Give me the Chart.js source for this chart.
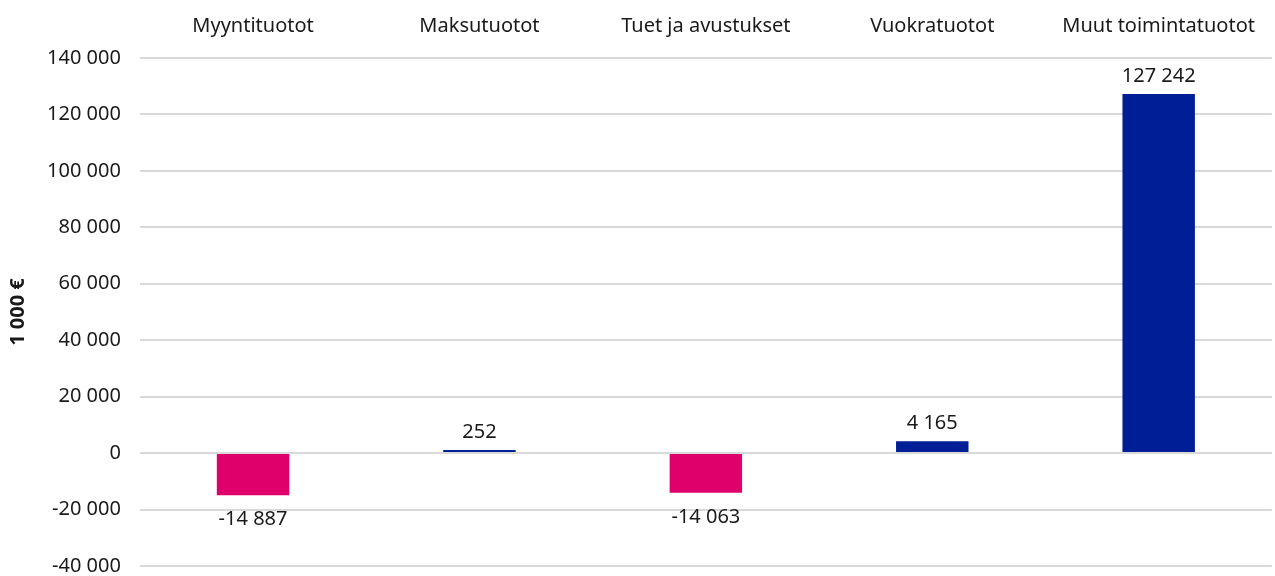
<!DOCTYPE html>
<html>
<head>
<meta charset="utf-8">
<script src="https://cdn.jsdelivr.net/npm/chart.js@4/dist/chart.umd.min.js"></script>
<style>
  html, body { margin: 0; padding: 0; background: #fff; }
  #wrap { width: 1275px; height: 576px; position: relative; }
</style>
</head>
<body>
<div id="wrap"><canvas id="chart"></canvas></div>
<script>
// Data
const categories = ['Myyntituotot', 'Maksutuotot', 'Tuet ja avustukset', 'Vuokratuotot', 'Muut toimintatuotot'];
const values = [-14887, 252, -14063, 4165, 127242];
const yTicks = [-40000, -20000, 0, 20000, 40000, 60000, 80000, 100000, 120000, 140000];

const POS_COLOR = '#001e96';
const NEG_COLOR = '#e0006b';
const FONT = "'Noto Sans', 'Open Sans', sans-serif";

function fmt(n) {
  const s = Math.abs(n).toString().replace(/\B(?=(\d{3})+(?!\d))/g, ' ');
  return (n < 0 ? '-' : '') + s;
}

// value labels above/below the bars
const valueLabels = {
  id: 'valueLabels',
  afterDatasetsDraw(chart) {
    const ctx = chart.ctx;
    const meta = chart.getDatasetMeta(0);
    ctx.save();
    ctx.font = '20px ' + FONT;
    ctx.fillStyle = '#1a1a1a';
    ctx.textAlign = 'center';
    meta.data.forEach((bar, i) => {
      const v = values[i];
      if (v >= 0) {
        ctx.textBaseline = 'bottom';
        ctx.fillText(fmt(v), bar.x, bar.y - 8);
      } else {
        ctx.textBaseline = 'top';
        ctx.fillText(fmt(v), bar.x, bar.y + 14);
      }
    });
    ctx.restore();
  }
};

new Chart(document.getElementById('chart'), {
  type: 'bar',
  data: {
    labels: categories,
    datasets: [{
      data: values,
      backgroundColor: values.map(v => v < 0 ? NEG_COLOR : POS_COLOR),
      borderWidth: 0,
      barPercentage: 0.32,
      categoryPercentage: 1.0,
      minBarLength: 3
    }]
  },
  options: {
    responsive: true,
    maintainAspectRatio: false,
    animation: false,
    layout: { padding: { left: 0, right: 0, top: -6, bottom: 10 } },
    plugins: {
      legend: { display: false },
      tooltip: { enabled: false }
    },
    scales: {
      x: {
        position: 'top',
        grid: { display: false, drawTicks: false },
        border: { display: false },
        ticks: { color: '#1a1a1a', font: { family: FONT, size: 20 }, padding: 20 }
      },
      y: {
        min: -40000,
        max: 140000,
        afterBuildTicks: axis => { axis.ticks = yTicks.map(v => ({ value: v })); },
        // don't reserve extra room for the top/bottom tick labels
        afterFit: axis => { axis.paddingTop = 0; axis.paddingBottom = 0; },
        grid: { color: '#d9d9d9', lineWidth: 2, drawTicks: false },
        border: { display: false },
        ticks: {
          color: '#1a1a1a',
          font: { family: FONT, size: 20 },
          padding: 19,
          callback: v => fmt(v)
        },
        title: {
          display: true,
          text: '1 000 €',
          color: '#1a1a1a',
          font: { family: FONT, size: 20, weight: 'bold', lineHeight: 1 },
          padding: { top: 8, bottom: 0 }
        }
      }
    }
  },
  plugins: [valueLabels]
});
</script>
</body>
</html>
